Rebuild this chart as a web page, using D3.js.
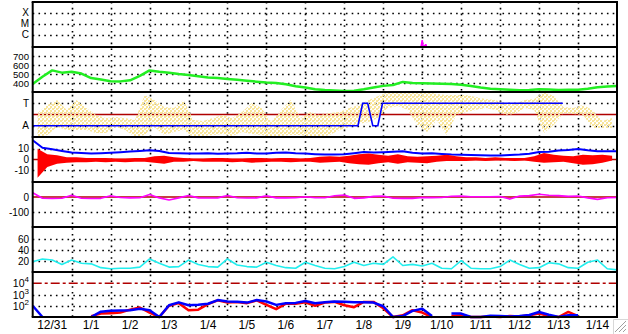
<!DOCTYPE html>
<html>
<head>
<meta charset="utf-8">
<title>Solar wind summary</title>
<script src="https://cdn.jsdelivr.net/npm/d3@7"></script>
<style>
  body { margin: 0; background: #fff; overflow: hidden; }
  svg text { font-family: "Liberation Sans", Arial, sans-serif; fill: #000; }
  svg text.date { font-family: "Liberation Sans Narrow", "Liberation Sans", Arial, sans-serif; }
</style>
</head>
<body>
<script>
// samples every 6 hours from 12/31 00:00 UT (61 points), bands are per 6h bin (60 bins)
var startDay = Date.UTC(2014, 11, 31);
var endDay = Date.UTC(2015, 0, 15);

var speed = [390, 470, 540, 515, 525, 505, 455, 440, 420, 418, 430, 480, 540, 525, 515, 500,
  490, 475, 462, 455, 445, 435, 425, 415, 405, 400, 385, 365, 350, 330, 322, 318,
  312, 315, 330, 350, 368, 378, 412, 400, 397, 395, 392, 388, 380, 366, 350, 337,
  330, 325, 319, 322, 330, 327, 322, 324, 326, 335, 352, 362, 367];

var phiLo = [0, 16, 80, 56, 56, 56, 32, 32, 80, 56, 0, 16, 80, 16, 40, 56,
  0, 8, 16, 24, 8, 40, 24, 16, 0, 8, 16, 16, 0, 0, 16, 56,
  80, 104, 120, 152, 232, 248, 216, 96, 40, 136, 16, 176, 200, 216, 232, 216,
  176, 184, 232, 216, 32, 96, 192, 184, 176, 72, 72, 72];
var phiHi = [192, 256, 296, 216, 296, 232, 176, 152, 160, 152, 136, 336, 296, 240, 232, 296,
  136, 128, 152, 176, 152, 200, 272, 232, 120, 216, 296, 152, 200, 176, 192, 200,
  232, 256, 296, 328, 360, 360, 360, 360, 360, 344, 336, 336, 336, 320, 304, 296,
  272, 264, 296, 304, 360, 328, 240, 232, 256, 216, 128, 152];

var sectorDays = [0, 8.35, 8.47, 8.6, 8.73, 8.86, 8.98, 13.61];
var sectorSide = ['A', 'A', 'T', 'T', 'A', 'A', 'T', 'T'];

var bt = [18, 11, 9.5, 8, 6.5, 6, 5.6, 5.8, 6.2, 6.8, 7.5, 8, 8.7, 8, 6, 5.8,
  5.6, 5.6, 5.8, 5.4, 5.6, 5.8, 6.4, 5.6, 5.6, 6.2, 6.6, 5.8, 5.5, 5, 4.7, 4.7,
  4.8, 5.8, 6.9, 6.5, 6.8, 7.3, 7.8, 6.4, 5.6, 5.8, 5.2, 4.6, 4.4, 4.2, 4, 3.8,
  3.8, 4.2, 4.6, 5.4, 6.9, 7.2, 8.4, 8.8, 9.8, 8.6, 7.8, 7.6, 7.8];

var bzLo = [-17, -7, -4, -3, -2.5, -2.5, -2, -2.5, -2, -2.5, -2, -2, -3, -4, -2, -2,
  -1.5, -2, -2, -2, -2.5, -2, -3, -2.5, -2, -2, -2.5, -2, -2, -3, -2.5, -2,
  -3.5, -4.5, -5, -3.5, -2.5, -4, -2.5, -3, -3.5, -2, -1.5, -1.5, -1.5, -1, -1.5, -1,
  -1, -1.5, -1, -2, -3, -2.5, -2, -3.5, -5, -4.5, -3, -1];
var bzHi = [10, 5, 4, 2, 2, 1.5, 1.5, 1.5, 1, 1, 1.5, 1.5, 3, 3.5, 2, 1.5,
  1, 1, 1.5, 1.5, 1, 1, 1.5, 1.5, 1, 1.5, 1.5, 1, 1.5, 2.5, 3, 2.5,
  3.5, 5, 5.5, 4.5, 3.5, 5, 3, 2.5, 3, 3.5, 4.5, 3, 2, 2, 1.5, 2,
  1.5, 1.5, 1.5, 3, 6, 4.5, 3.5, 3, 4.5, 4, 4.5, 3.5];

var dst = [28, -8, -10, -8, 12, -8, -10, -9, 8, -3, -6, -5, 16, -6, -20, -6,
  10, -6, -7, -6, 10, -5, -7, -6, 8, -6, -6, -5, 2, -5, -5, 8,
  13, -9, -6, 4, 7, -8, -9, -9, -3, -4, -3, 5, 6, 2, 2, 2,
  3, -14, 6, 9, 18, 12, 9, 4, 7, -6, -16, -5, -3];

var density = [19, 24, 22, 14, 22, 16, 15, 8, 6, 7, 7, 9, 24, 16, 9, 10,
  22, 14, 10, 9, 24, 13, 10, 9, 18, 12, 8, 7, 18, 12, 7, 6,
  10, 18, 12, 16, 14, 28, 12, 14, 11, 16, 7, 6, 21, 7, 6, 6,
  10, 22, 14, 7, 8, 17, 15, 8, 7, 18, 22, 6, 4];

var fluxRed = [null, 8, null, null, null, null, 12, 20, 22, 25, 45, 70, 25, 9, 100, 170,
  40, 45, 140, 300, 190, 210, 170, 300, 120, 50, 150, 150, 200, 100, 190, 220,
  110, 75, 220, 220, 60, 8, 14, 40, 25, 8, null, 12, 14, 8, 9, 11,
  10, 12, 11, 14, 20, 12, 8, 28, 12, null, null, null, null];
var fluxBlue = [100, 8, null, null, null, null, 10, 30, 36, 38, 40, 55, 40, 9, 110, 200,
  110, 120, 150, 320, 240, 230, 190, 320, 240, 120, 170, 180, 260, 170, 200, 240,
  230, 200, 200, 190, 90, 8, 12, 35, 55, 12, null, 20, 20, 9, 10, 13,
  12, 11, 12, 15, 28, 16, 9, 14, 14, null, null, null, null];

var xrayDays = [9.97, 10.0, 10.01, 10.03, 10.085, 10.095, 10.11];
var xrayFlux = [5e-8, 3.5e-7, 1.5e-7, 6e-8, 1.3e-7, 1.3e-7, 6e-8];

var width = 628, height = 334;
var left = 32.7, right = 617, top0 = 2, panelH = 45;

function sampleDate(i) { return new Date(startDay + i * 6 * 3600e3); }
function dayDate(d) { return new Date(startDay + d * 864e5); }
function panelTop(k) { return top0 + k * panelH; }
function panelBottom(k) { return top0 + (k + 1) * panelH; }

var svg = d3.select('body').append('svg')
  .attr('width', width)
  .attr('height', height);

// speckle fill for the phi scatter
var phiColor = '#f8e59c';
var pat = svg.append('defs').append('pattern')
  .attr('id', 'speckle')
  .attr('patternUnits', 'userSpaceOnUse')
  .attr('width', 4).attr('height', 4);
pat.append('rect').attr('x', 0).attr('y', 0).attr('width', 2).attr('height', 2).attr('fill', phiColor);
pat.append('rect').attr('x', 2).attr('y', 2).attr('width', 2).attr('height', 2).attr('fill', phiColor);
pat.append('rect').attr('x', 2).attr('y', 0).attr('width', 1).attr('height', 1).attr('fill', phiColor);

var x = d3.scaleUtc().domain([startDay, endDay]).range([left, right]);

var yXray = d3.scaleLog().domain([8.1e-8, 1e-3]).range([panelBottom(0), panelTop(0)]).clamp(true);
var ySpeed = d3.scaleLinear().domain([300, 800]).range([panelBottom(1), panelTop(1)]);
var yPhi = d3.scaleLinear().domain([0, 360]).range([panelBottom(2), panelTop(2)]);
var yB = d3.scaleLinear().domain([-21, 21]).range([panelBottom(3), panelTop(3)]);
var yDst = d3.scaleLinear().domain([-200, 100]).range([panelBottom(4), panelTop(4)]);
var yDens = d3.scaleLinear().domain([0, 83]).range([panelBottom(5), panelTop(5)]);
var yFlux = d3.scaleLog().domain([10, 1e5]).range([panelBottom(6), panelTop(6)]).clamp(true);

var grid = svg.append('g').attr('id', 'grid');
var marks = svg.append('g').attr('id', 'marks');
var frame = svg.append('g').attr('id', 'frame');

// dotted horizontal grid lines
function dotted(scale, values) {
  grid.selectAll(null)
    .data(values)
    .enter()
    .append('line')
      .attr('x1', left).attr('x2', right)
      .attr('y1', function(d) { return Math.round(scale(d)) + 0.5; })
      .attr('y2', function(d) { return Math.round(scale(d)) + 0.5; })
      .attr('stroke', '#000')
      .attr('stroke-width', 1.6)
      .attr('stroke-dasharray', '1.6,4.2');
}
dotted(yXray, [1e-4, 1e-5, 1e-6]);
dotted(ySpeed, [700, 600, 500, 400]);
dotted(yPhi, [270, 90]);
dotted(yB, [10, -10]);
dotted(yDst, [-100]);
dotted(yDens, [60, 40, 20]);
dotted(yFlux, [1e3, 1e2]);

// dotted day lines
var days = d3.utcDay.range(new Date(startDay), new Date(endDay));
grid.selectAll(null)
  .data(days.slice(1))
  .enter()
  .append('line')
    .attr('x1', function(d) { return Math.round(x(d)) + 0.5; })
    .attr('x2', function(d) { return Math.round(x(d)) + 0.5; })
    .attr('y1', panelTop(0)).attr('y2', panelBottom(6))
    .attr('stroke', '#000')
    .attr('stroke-width', 1.6)
    .attr('stroke-dasharray', '1.6,4.2');

// reference lines
var darkRed = '#b00000';
function refLine(scale, v, dash) {
  grid.append('line')
    .attr('x1', left).attr('x2', right)
    .attr('y1', scale(v)).attr('y2', scale(v))
    .attr('stroke', darkRed)
    .attr('stroke-width', 1.5)
    .attr('stroke-dasharray', dash || null);
}

// T/A panel: phi scatter band
marks.append('path')
  .datum(phiLo)
  .attr('d', d3.area()
    .x(function(d, i) { return x(sampleDate(i + 0.5)); })
    .y0(function(d, i) { return yPhi(phiLo[i]); })
    .y1(function(d, i) { return yPhi(phiHi[i]); }))
  .attr('fill', 'url(#speckle)');

refLine(yPhi, 180);
refLine(yB, 0);
refLine(yDst, 0);
refLine(yFlux, 1e4, '9,3,3,3');

marks.append('path')
  .datum(sectorDays)
  .attr('d', d3.line()
    .x(function(d) { return x(dayDate(d)); })
    .y(function(d, i) { return yPhi(sectorSide[i] === 'T' ? 270 : 90); }))
  .attr('fill', 'none')
  .attr('stroke', '#0000ff')
  .attr('stroke-width', 1.6);

// X-ray
marks.append('path')
  .datum(xrayDays)
  .attr('d', d3.line()
    .x(function(d) { return x(dayDate(d)); })
    .y(function(d, i) { return yXray(xrayFlux[i]); }))
  .attr('fill', 'none')
  .attr('stroke', '#ff00ff')
  .attr('stroke-width', 1.6);

// sampled lines
function sampledLine(values, scale, color, w) {
  marks.append('path')
    .datum(values)
    .attr('d', d3.line()
      .defined(function(d) { return d !== null; })
      .x(function(d, i) { return x(sampleDate(i)); })
      .y(function(d) { return scale(d); }))
    .attr('fill', 'none')
    .attr('stroke', color)
    .attr('stroke-width', w)
    .attr('stroke-linejoin', 'round');
}

sampledLine(speed, ySpeed, '#22ee22', 2.5);
sampledLine(bt, yB, '#0000ff', 2);

// Bz band
marks.append('path')
  .datum(bzLo)
  .attr('d', d3.area()
    .x(function(d, i) { return x(sampleDate(i + 0.5)); })
    .y0(function(d, i) { return yB(bzLo[i]); })
    .y1(function(d, i) { return yB(bzHi[i]); }))
  .attr('fill', '#ff0000');

sampledLine(dst, yDst, '#ff00ff', 1.6);
sampledLine(density, yDens, '#22eeee', 1.6);
sampledLine(fluxRed, yFlux, '#ff0000', 2.5);
sampledLine(fluxBlue, yFlux, '#0000ff', 2.5);

// frame
for (var k = 0; k <= 7; k++) {
  frame.append('line')
    .attr('x1', left - 1).attr('x2', right + 1)
    .attr('y1', top0 + k * panelH).attr('y2', top0 + k * panelH)
    .attr('stroke', '#000').attr('stroke-width', 2);
}
frame.append('line')
  .attr('x1', left).attr('x2', left)
  .attr('y1', panelTop(0)).attr('y2', panelBottom(6))
  .attr('stroke', '#000').attr('stroke-width', 2);
frame.append('line')
  .attr('x1', right).attr('x2', right)
  .attr('y1', panelTop(0)).attr('y2', panelBottom(6))
  .attr('stroke', '#000').attr('stroke-width', 2);

// left labels
function labels(scale, items, size) {
  frame.selectAll(null)
    .data(items)
    .enter()
    .append('text')
      .attr('x', 29)
      .attr('y', function(d) { return scale(d[1]) + 3.5; })
      .attr('text-anchor', 'end')
      .attr('font-size', size || 10)
      .text(function(d) { return d[0]; });
}
labels(yXray, [['X', 1e-4], ['M', 1e-5], ['C', 1e-6]]);
labels(ySpeed, [['700', 700], ['600', 600], ['500', 500], ['400', 400]], 9.6);
labels(yPhi, [['T', 270], ['A', 90]]);
labels(yB, [['10', 10], ['0', 0], ['-10', -10]]);
labels(yDst, [['0', 0], ['-100', -100]]);
labels(yDens, [['60', 60], ['40', 40], ['20', 20]]);

var fluxTicks = [[4, 1e4], [3, 1e3], [2, 1e2]];
var fluxLabels = frame.selectAll(null)
  .data(fluxTicks)
  .enter()
  .append('text')
    .attr('x', 29)
    .attr('y', function(d) { return yFlux(d[1]) + 4; })
    .attr('text-anchor', 'end')
    .attr('font-size', 10.5);
fluxLabels.append('tspan').text('10');
fluxLabels.append('tspan')
  .attr('dy', -5)
  .attr('font-size', 8)
  .text(function(d) { return d[0]; });

// date labels at noon
frame.selectAll(null)
  .data(days)
  .enter()
  .append('text')
    .attr('class', 'date')
    .attr('x', function(d) { return x(new Date(+d + 12 * 3600e3)); })
    .attr('y', 329)
    .attr('text-anchor', 'middle')
    .attr('font-size', 12)
    .text(d3.utcFormat('%-m/%-d'));

// window resize grip in the corner
var grip = svg.append('g').attr('stroke', '#a0a0a0').attr('stroke-width', 1);
grip.append('path').attr('d', 'M613.5,334V319.5H628').attr('fill', 'none').attr('stroke', '#d8d8d8');
[[615, 332, 626, 321], [619, 332, 626, 325], [623, 332, 626, 329]].forEach(function(s) {
  grip.append('line').attr('x1', s[0]).attr('y1', s[1]).attr('x2', s[2]).attr('y2', s[3]);
});
</script>
</body>
</html>
